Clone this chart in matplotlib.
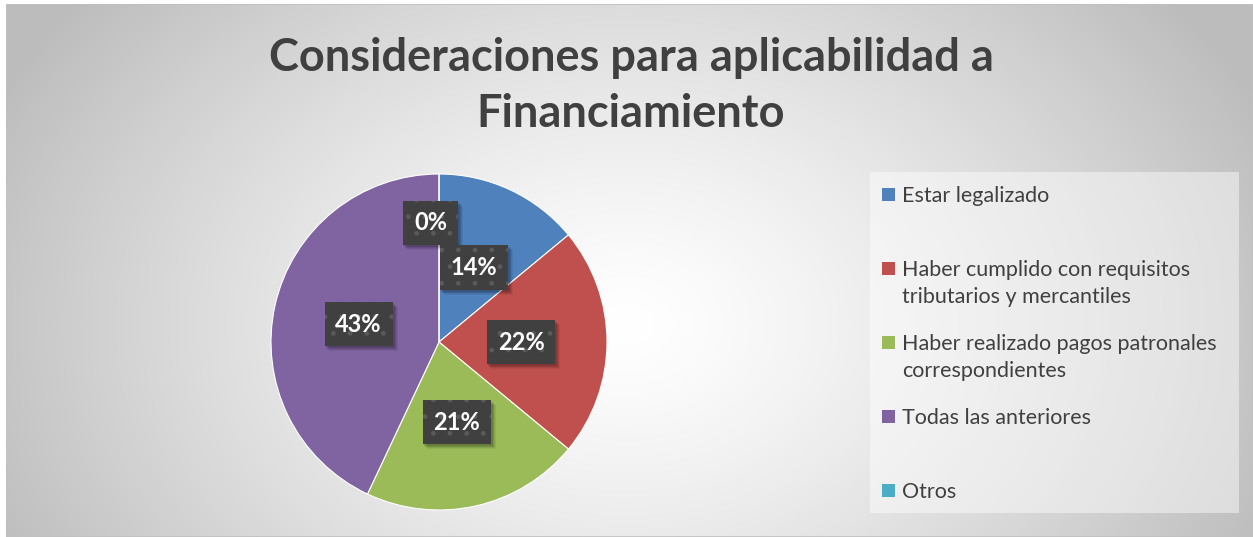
import numpy as np
import matplotlib
matplotlib.use("Agg")
import matplotlib.pyplot as plt
from matplotlib.patches import Rectangle
from matplotlib.transforms import IdentityTransform

categories = ["Estar legalizado",
              "Haber cumplido con requisitos\ntributarios y mercantiles",
              "Haber realizado pagos patronales\ncorrespondientes",
              "Todas las anteriores",
              "Otros"]
values = [14, 22, 21, 43, 0]
pct_labels = ["14%", "22%", "21%", "43%", "0%"]
colors = ["#4f81bd", "#c0504d", "#9bbb59", "#8064a2", "#4bacc6"]
title = "Consideraciones para aplicabilidad a\nFinanciamiento"

W, H = 1253, 537
plt.rcParams['font.family'] = ['Lato', 'DejaVu Sans']
fig = plt.figure(figsize=(W / 100, H / 100), dpi=100)
fig.patch.set_facecolor('white')

# background with radial gradient
bg = fig.add_axes([6 / W, 0, 1 - 6 / W, 1 - 4 / H])
yy, xx = np.mgrid[0:H - 4, 0:W - 6]
d = np.sqrt(((xx - 620) / 700.0) ** 2 + ((yy - 320) / 520.0) ** 2)
g = np.clip(1.0 - 0.26 * d ** 1.3, 0.74, 1.0)
bg.imshow(np.dstack([g, g, g]), aspect='auto', extent=[0, 1, 0, 1], origin='upper')
bg.set_axis_off()
bg.add_patch(Rectangle((0, 0), 1, 1, transform=bg.transAxes, fill=False,
                       edgecolor='#c0c0c0', linewidth=1.2))

fig.text(631 / W, 1 - 86 / H, title, ha='center', va='center', fontsize=32.5,
         fontweight='bold', color='#404040', linespacing=1.42)

# pie
cx, cy, r = 439, 342, 168
ax = fig.add_axes([(cx - r) / W, (H - cy - r) / H, 2 * r / W, 2 * r / H])
wedges, _ = ax.pie(values, colors=colors, startangle=90, counterclock=False,
                   radius=1, wedgeprops=dict(edgecolor='white', linewidth=0.8))
ax.set_xlim(-1, 1)
ax.set_ylim(-1, 1)
ax.set_axis_off()

label_texts = []
for i, (w, lab) in enumerate(zip(wedges, pct_labels)):
    ang = np.deg2rad((w.theta1 + w.theta2) / 2)
    dist = 0.49
    x, y = dist * np.cos(ang), dist * np.sin(ang)
    if values[i] == 0:
        x, y = -0.05, 0.71
    t = ax.text(x, y, lab, ha='center', va='center', fontsize=17,
                fontweight='bold', color='white', zorder=5,
                bbox=dict(boxstyle='square,pad=0.45', facecolor='#404040',
                          edgecolor='#5a5a5a', linewidth=0, hatch='.'))
    label_texts.append(t)

# soft shadows under label boxes
fig.canvas.draw()
for t in label_texts:
    bb = t.get_bbox_patch().get_window_extent()
    for k, a in [(5, 0.06), (4, 0.08), (3, 0.10), (2, 0.12)]:
        ax.add_patch(Rectangle((bb.x0 + k - 1, bb.y0 - k), bb.width + 1, bb.height,
                               transform=IdentityTransform(), facecolor='black',
                               alpha=a, edgecolor='none', zorder=4, clip_on=False))

# legend
lx0, ly0, lx1, ly1 = 870, 172, 1239, 513
fig.patches.append(Rectangle((lx0 / W, 1 - ly1 / H), (lx1 - lx0) / W, (ly1 - ly0) / H,
                             transform=fig.transFigure, facecolor='white',
                             alpha=0.45, edgecolor='none', zorder=1))
for i, (lab, c) in enumerate(zip(categories, colors)):
    yc = 195 + 74 * i
    fig.patches.append(Rectangle((882 / W, 1 - (yc + 6) / H), 13 / W, 13 / H,
                                 transform=fig.transFigure, facecolor=c,
                                 edgecolor='none', zorder=2))
    fig.text(902 / W, 1 - (yc - 9) / H, lab, ha='left', va='top', fontsize=15.5,
             color='#404040', linespacing=1.42, zorder=3)

fig.savefig('out.png', dpi=100)
